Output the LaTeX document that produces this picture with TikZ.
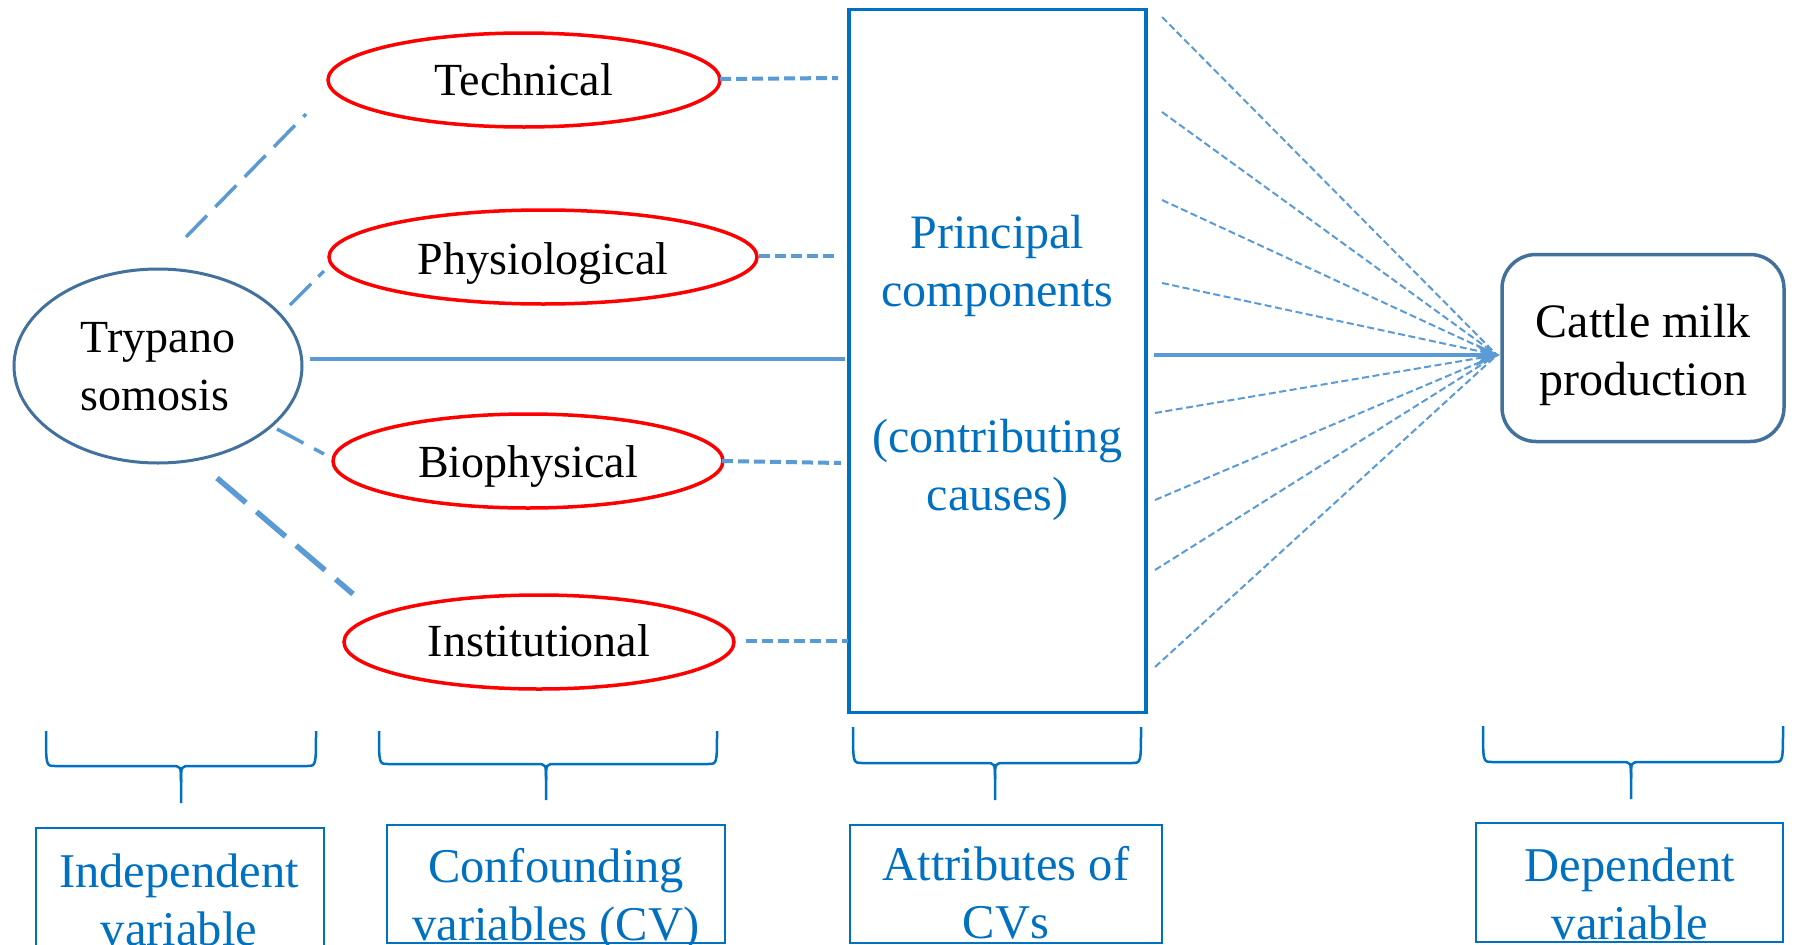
\documentclass[tikz,border=0pt]{standalone}
\usepackage{fontspec}
\setmainfont{Liberation Serif}
\usetikzlibrary{arrows.meta,shapes.geometric}
\definecolor{redc}{HTML}{FF0000}
\definecolor{steel}{HTML}{41719C}
\definecolor{lblue}{HTML}{5B9BD5}
\definecolor{dblue}{HTML}{0070C0}
\newcommand\lowrtxt[3]{\raisebox{-#1}[\height][\depth]{\begin{tabular}{@{}#2@{}}#3\end{tabular}}}
\begin{document}
\begin{tikzpicture}[x=1pt,y=-1pt,
  every node/.style={font=\fontsize{46}{58}\selectfont, inner sep=0pt},
  cvnode/.style={ellipse, draw=redc, line width=3.5, minimum height=94},
  conn/.style={draw=lblue, line width=4, dash pattern=on 11 off 5},
  fan/.style={draw=lblue, line width=2, dash pattern=on 7 off 3.5},
  bracestyle/.style={draw=dblue, line width=2.5},
  lbox/.style={draw=dblue, line width=2.5, rectangle},
  ltext/.style={text=dblue, align=center, font=\fontsize{48.5}{58}\selectfont}]
\clip (0,0) rectangle (1797,945);
\fill[white] (0,0) rectangle (1797,945);

% nodes
\node[ellipse, draw=steel, line width=3, minimum width=288, minimum height=194] (tryp) at (158,366) {\lowrtxt{4pt}{l}{Trypano\\somosis}};
\node[cvnode, minimum width=392] (tech) at (524,80) {\lowrtxt{4pt}{c}{Technical}};
\node[cvnode, minimum width=428] (phys) at (543,257) {\lowrtxt{6pt}{c}{Physiological}};
\node[cvnode, minimum width=390] (bio) at (528,461) {\lowrtxt{5pt}{c}{Biophysical}};
\node[cvnode, minimum width=390] (inst) at (539,642) {\lowrtxt{3pt}{c}{Institutional}};
\node[draw=dblue, line width=3.5, minimum width=297, minimum height=703, text=dblue, font=\fontsize{48}{58}\selectfont] (pc) at (997.5,361) {\lowrtxt{7pt}{c}{Principal\\components\\[88pt](contributing\\causes)}};
\node[draw=steel, line width=3.5, rounded corners=34, minimum width=282, minimum height=187, font=\fontsize{48}{58}\selectfont] (cattle) at (1643,348) {\lowrtxt{7pt}{c}{Cattle milk\\production}};

% connector end points
\coordinate (a1) at (186,237); \coordinate (b1) at (306,114);
\coordinate (a2) at (290,305); \coordinate (b2) at (324,271);
\coordinate (a3) at (310,359); \coordinate (b3) at (845,359);
\coordinate (a4) at (277,429); \coordinate (b4) at (324,454);
\coordinate (a5) at (217,478); \coordinate (b5) at (353,594);
\coordinate (c1) at (720,79); \coordinate (d1) at (838,78);
\coordinate (c2) at (759,256); \coordinate (d2) at (837,256);
\coordinate (c3) at (722,461); \coordinate (d3) at (841,463);
\coordinate (c4) at (746,641); \coordinate (d4) at (848,641);
\coordinate (conv) at (1497,355);
\coordinate (tipc) at (cattle.west |- conv);
\coordinate (s0) at (1154,355);

% Trypanosomosis links
\draw[lblue, line width=3.5, dash pattern=on 30 off 12] (a1) -- (b1);
\draw[lblue, line width=3.5, dash pattern=on 30 off 10] (a2) -- (b2);
\draw[lblue, line width=3.5] (a3) -- (b3);
\draw[lblue, line width=3.5, dash pattern=on 30 off 12] (a4) -- (b4);
\draw[lblue, line width=5.5, dash pattern=on 38 off 14] (a5) -- (b5);

% CV to box links
\draw[conn] (c1) -- (d1);
\draw[conn] (c2) -- (d2);
\draw[conn] (c3) -- (d3);
\draw[conn] (c4) -- (d4);

% fan
\foreach \i/\x/\y in {1/1162/17, 2/1162/112, 3/1162/200, 4/1162/283, 5/1155/413, 6/1155/500, 7/1155/570, 8/1155/667} {
  \coordinate (f\i) at (\x,\y);
  \draw[fan] (f\i) -- (conv);
}
\draw[lblue, line width=3.5, -{Stealth[length=24,width=22]}] (s0) -- (tipc);

% braces
\foreach \l/\r/\t/\h/\m/\b in {46/316/731/766/181/803, 379/717/731/764/546/800, 853/1141/727/763/995/800, 1483/1783/726/762/1631/799} {
  \draw[bracestyle] (\l,\t) .. controls (\l,\h) .. (\l+9,\h) -- (\m-10,\h) .. controls (\m,\h) .. (\m,\h+16) -- (\m,\b);
  \draw[bracestyle] (\r,\t) .. controls (\r,\h) .. (\r-9,\h) -- (\m+10,\h) .. controls (\m,\h) .. (\m,\h+16);
}

% label boxes
\node[lbox, minimum width=288, minimum height=122] (l1) at (180,889) {};
\node[lbox, minimum width=338, minimum height=118] (l2) at (556,884) {};
\node[lbox, minimum width=312, minimum height=118] (l3) at (1006,884) {};
\node[lbox, minimum width=307, minimum height=119] (l4) at (1629.5,882.5) {};
\node[ltext] (t1) at (179,900) {Independent\\variable};
\node[ltext] (t2) at (556,900) {Confounding\\variables (CV)};
\node[ltext] (t3) at (1006,893) {Attributes of\\CVs};
\node[ltext] (t4) at (1630,894) {Dependent\\variable};
\end{tikzpicture}
\end{document}
